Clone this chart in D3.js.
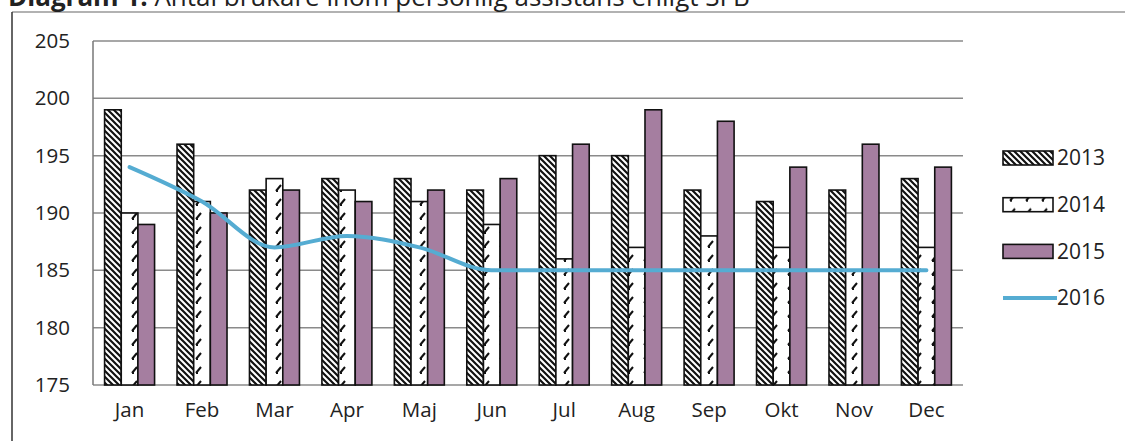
<!DOCTYPE html>
<html>
<head>
<meta charset="utf-8">
<script src="https://cdn.jsdelivr.net/npm/d3@7"></script>
<style>
  body { margin: 0; background: #fff; }
  svg { display: block; font-family: "Open Sans", "Noto Sans", sans-serif; }
</style>
</head>
<body>
<div id="viz"></div>
<script>
(function() {

    var width = 1125;
    var height = 441;

    // Data
    var months = ["Jan", "Feb", "Mar", "Apr", "Maj", "Jun", "Jul", "Aug", "Sep", "Okt", "Nov", "Dec"];
    var years = ["2013", "2014", "2015"];
    var values2013 = [199, 196, 192, 193, 193, 192, 195, 195, 192, 191, 192, 193];
    var values2014 = [190, 191, 193, 192, 191, 189, 186, 187, 188, 187, 185, 187];
    var values2015 = [189, 190, 192, 191, 192, 193, 196, 199, 198, 194, 196, 194];
    var values2016 = [194, 191, 187, 188, 187, 185, 185, 185, 185, 185, 185, 185];
    var yTicks = [175, 180, 185, 190, 195, 200, 205];

    var barSeries = [values2013, values2014, values2015];

    var margin = {top: 41, right: 162, bottom: 56, left: 93};

    var svg = d3.select("#viz")
        .append("svg")
        .attr("width", width)
        .attr("height", height);

    //Patterns for the bars
    var defs = svg.append("defs");

    var p13 = defs.append("pattern")
        .attr("id", "pat2013")
        .attr("patternUnits", "userSpaceOnUse")
        .attr("width", 6)
        .attr("height", 6);
    p13.append("rect").attr("width", 6).attr("height", 6).attr("fill", "#fff");
    p13.append("path")
        .attr("d", "M-1,-1 L7,7 M-4,2 L2,8 M4,-2 L10,4")
        .attr("stroke", "#111")
        .attr("stroke-width", 2.2);

    var p14 = defs.append("pattern")
        .attr("id", "pat2014")
        .attr("patternUnits", "userSpaceOnUse")
        .attr("width", 16)
        .attr("height", 14);
    p14.append("rect").attr("width", 16).attr("height", 14).attr("fill", "#fff");
    p14.append("path")
        .attr("d", "M7,10 L12,4 M7,10 L9,10")
        .attr("stroke", "#111")
        .attr("stroke-width", 2);

    var fills = ["url(#pat2013)", "url(#pat2014)", "#a57ea0"];
    var lineColor = "#55acd2";

    //Frame around the figure
    svg.append("line")
        .attr("x1", 12).attr("x2", width)
        .attr("y1", 12).attr("y2", 12)
        .attr("stroke", "#999").attr("stroke-width", 1.5);
    svg.append("line")
        .attr("x1", 12).attr("x2", 12)
        .attr("y1", 12).attr("y2", height)
        .attr("stroke", "#333").attr("stroke-width", 1.5);

    //Title, cut off at the top like the scan
    var title = svg.append("text")
        .attr("x", 8)
        .attr("y", 6)
        .attr("font-size", "26px")
        .attr("fill", "#222");
    title.append("tspan").attr("font-weight", "bold").text("Diagram 1. ");
    title.append("tspan").text("Antal brukare inom personlig assistans enligt SFB");

    var g = svg.append("g")
        .attr("transform", "translate(" + margin.left + "," + margin.top + ")");

    var innerW = width - margin.left - margin.right;
    var innerH = height - margin.top - margin.bottom;

    var x = d3.scaleBand().domain(months).range([0, innerW]).paddingInner(0.31).paddingOuter(0.16);
    var xSub = d3.scaleBand().domain(years).range([0, x.bandwidth()]);
    var y = d3.scaleLinear().domain([175, 205]).range([innerH, 0]);

    //Gridlines
    g.selectAll(".grid")
        .data(yTicks)
        .enter().append("line")
        .attr("class", "grid")
        .attr("x1", 0).attr("x2", innerW)
        .attr("y1", function(d) { return y(d); })
        .attr("y2", function(d) { return y(d); })
        .attr("stroke", "#8a8a8a")
        .attr("stroke-width", 1.5);

    g.append("line")
        .attr("x1", 0).attr("x2", 0)
        .attr("y1", 0).attr("y2", innerH)
        .attr("stroke", "#777").attr("stroke-width", 1.5);

    //Y axis labels
    var yAxis = g.append("g")
        .call(d3.axisLeft(y).tickValues(yTicks).tickSize(0).tickPadding(23));
    yAxis.select(".domain").remove();
    yAxis.selectAll("text")
        .attr("font-size", "20.5px")
        .attr("font-family", "Open Sans, Noto Sans, sans-serif")
        .attr("fill", "#222");

    //X axis labels
    var xAxis = g.append("g")
        .attr("transform", "translate(0," + innerH + ")")
        .call(d3.axisBottom(x).tickSize(0).tickPadding(17));
    xAxis.select(".domain").remove();
    xAxis.selectAll("text")
        .attr("font-size", "20.5px")
        .attr("font-family", "Open Sans, Noto Sans, sans-serif")
        .attr("fill", "#222");

    //Bars
    barSeries.forEach(function(series, i) {
        g.selectAll(".bar" + i)
            .data(series)
            .enter().append("rect")
            .attr("class", "bar" + i)
            .attr("x", function(d, j) { return x(months[j]) + xSub(years[i]); })
            .attr("y", function(d) { return y(d); })
            .attr("width", xSub.bandwidth())
            .attr("height", function(d) { return innerH - y(d); })
            .attr("fill", fills[i])
            .attr("stroke", "#111")
            .attr("stroke-width", 1.6);
    });

    //2016 line
    var line = d3.line()
        .x(function(d, j) { return x(months[j]) + x.bandwidth() / 2; })
        .y(function(d) { return y(d); })
        .curve(d3.curveMonotoneX);

    g.append("path")
        .datum(values2016)
        .attr("d", line)
        .attr("fill", "none")
        .attr("stroke", lineColor)
        .attr("stroke-width", 4)
        .attr("stroke-linecap", "round");

    //Legend
    var legendItems = years.concat(["2016"]);
    var legend = svg.append("g")
        .attr("transform", "translate(1003,158)");

    var item = legend.selectAll(".legend-item")
        .data(legendItems)
        .enter().append("g")
        .attr("class", "legend-item")
        .attr("transform", function(d, i) { return "translate(0," + (i * 46.7) + ")"; });

    item.filter(function(d, i) { return i < 3; })
        .append("rect")
        .attr("x", 0).attr("y", -7)
        .attr("width", 50).attr("height", 14)
        .attr("fill", function(d, i) { return fills[i]; })
        .attr("stroke", "#111")
        .attr("stroke-width", 1.6);

    item.filter(function(d, i) { return i === 3; })
        .append("line")
        .attr("x1", 0).attr("x2", 54)
        .attr("y1", 0).attr("y2", 0)
        .attr("stroke", lineColor)
        .attr("stroke-width", 4);

    item.append("text")
        .attr("x", 54)
        .attr("y", 0)
        .attr("dy", "0.35em")
        .attr("font-size", "21px")
        .attr("fill", "#222")
        .text(function(d) { return d; });

})();
</script>
</body>
</html>
